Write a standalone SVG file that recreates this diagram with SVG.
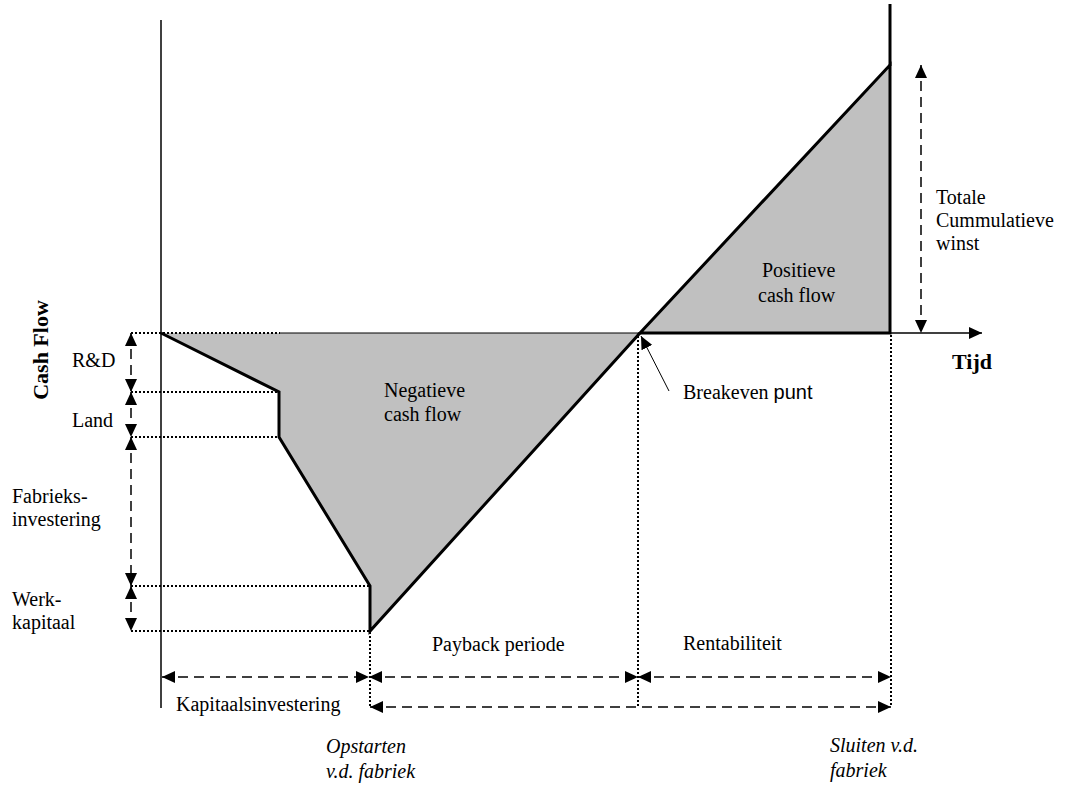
<svg xmlns="http://www.w3.org/2000/svg" width="1065" height="786" viewBox="0 0 1065 786">
  <style>
    .t { font-family: "Liberation Serif", "Times New Roman", serif; font-size: 20px; fill: #000; }
    .it { font-style: italic; }
    .sans { font-family: "Liberation Sans", Arial, sans-serif; }
    .b { font-family: "Liberation Serif", "Times New Roman", serif; font-size: 22px; font-weight: bold; fill: #000; }
    .dot { stroke: #000; stroke-width: 2; stroke-dasharray: 2 2; fill: none; }
    .dash { stroke: #000; stroke-width: 1.5; stroke-dasharray: 10 6; fill: none; marker-start: url(#ah); marker-end: url(#ah); }
    .area { fill: #c0c0c0; stroke: #000; stroke-width: 3; stroke-linejoin: miter; }
    .thin { stroke: #000; stroke-width: 1.5; fill: none; }
  </style>
  <defs>
    <marker id="ah" markerUnits="userSpaceOnUse" markerWidth="14" markerHeight="12" refX="13" refY="6" orient="auto-start-reverse" viewBox="0 0 14 12">
      <path d="M0,0 L13,6 L0,12 Z" fill="#000"/>
    </marker>
  </defs>
  <rect width="1065" height="786" fill="#fff"/>

  <!-- vertical cash-flow axis -->
  <g id="axis-y">
    <line class="thin" x1="161" y1="20" x2="161" y2="708"/>
    <text class="b" transform="translate(48,350) rotate(-90)" text-anchor="middle">Cash Flow</text>
  </g>

  <!-- negative cash flow area -->
  <g id="negative-area">
    <polygon points="161,333 279,392 279,437 370,586 370,631 640,333" fill="#c0c0c0" stroke="none"/>
    <polyline points="161,333 279,392 279,437 370,586 370,631 640,333" fill="none" stroke="#000" stroke-width="3"/>
    <line x1="280" y1="333" x2="640" y2="333" stroke="#000" stroke-width="1"/>
    <text class="t" x="384" y="397">Negatieve</text>
    <text class="t" x="384" y="421">cash flow</text>
  </g>

  <!-- positive cash flow area -->
  <g id="positive-area">
    <polygon class="area" points="640,333 890,65 890,333"/>
    <line x1="890" y1="4" x2="890" y2="66" stroke="#000" stroke-width="3"/>
    <text class="t" x="762" y="277">Positieve</text>
    <text class="t" x="758" y="302">cash flow</text>
  </g>

  <!-- time axis -->
  <g id="axis-x">
    <line x1="890" y1="333" x2="982" y2="333" stroke="#000" stroke-width="1.5" marker-end="url(#ah)"/>
    <text class="b" x="952" y="369">Tijd</text>
  </g>

  <!-- breakeven point -->
  <g id="breakeven">
    <line x1="669" y1="391" x2="641" y2="336" stroke="#000" stroke-width="1" marker-end="url(#ah)"/>
    <text class="t" x="683" y="399">Breakeven <tspan class="sans">punt</tspan></text>
  </g>

  <!-- total cumulative profit -->
  <g id="total-profit">
    <text class="t" x="936" y="204">Totale</text>
    <text class="t" x="936" y="227">Cummulatieve</text>
    <text class="t" x="936" y="250">winst</text>
  </g>

  <!-- investment components -->
  <g id="rd"><text class="t" x="72" y="367">R&amp;D</text></g>
  <g id="land"><text class="t" x="72" y="427">Land</text></g>
  <g id="plant"><text class="t" x="12" y="503">Fabrieks-</text><text class="t" x="12" y="526">investering</text></g>
  <g id="working-capital"><text class="t" x="12" y="606">Werk-</text><text class="t" x="12" y="629">kapitaal</text></g>

  <!-- period labels -->
  <g id="payback"><text class="t" x="432" y="651">Payback periode</text></g>
  <g id="profitability"><text class="t" x="683" y="650">Rentabiliteit</text></g>
  <g id="capital"><text class="t" x="176" y="711">Kapitaalsinvestering</text></g>
  <g id="startup"><text class="t it" x="326" y="753">Opstarten</text><text class="t it" x="326" y="778">v.d. fabriek</text></g>
  <g id="shutdown"><text class="t it" x="830" y="752">Sluiten v.d.</text><text class="t it" x="830" y="777">fabriek</text></g>

  <!-- guide lines and dimension arrows -->
  <g id="connectors">
    <line class="dot" x1="131" y1="333" x2="280" y2="333"/>
    <line class="dot" x1="131" y1="392" x2="279" y2="392"/>
    <line class="dot" x1="131" y1="437" x2="279" y2="437"/>
    <line class="dot" x1="131" y1="586" x2="370" y2="586"/>
    <line class="dot" x1="131" y1="631" x2="370" y2="631"/>
    <line class="dot" x1="370" y1="632" x2="370" y2="708"/>
    <line class="dot" x1="638" y1="336" x2="638" y2="708"/>
    <line class="dot" x1="891" y1="335" x2="891" y2="706"/>

    <line class="dash" x1="131" y1="333" x2="131" y2="392"/>
    <line class="dash" x1="131" y1="392" x2="131" y2="437"/>
    <line class="dash" x1="131" y1="437" x2="131" y2="586"/>
    <line class="dash" x1="131" y1="586" x2="131" y2="631"/>

    <line class="dash" x1="921" y1="65" x2="921" y2="333"/>

    <line class="dash" x1="162" y1="677" x2="369" y2="677"/>
    <line class="dash" x1="369" y1="677" x2="638" y2="677"/>
    <line class="dash" x1="638" y1="677" x2="891" y2="677"/>
    <line class="dash" x1="370" y1="707" x2="891" y2="707"/>
  </g>
</svg>
